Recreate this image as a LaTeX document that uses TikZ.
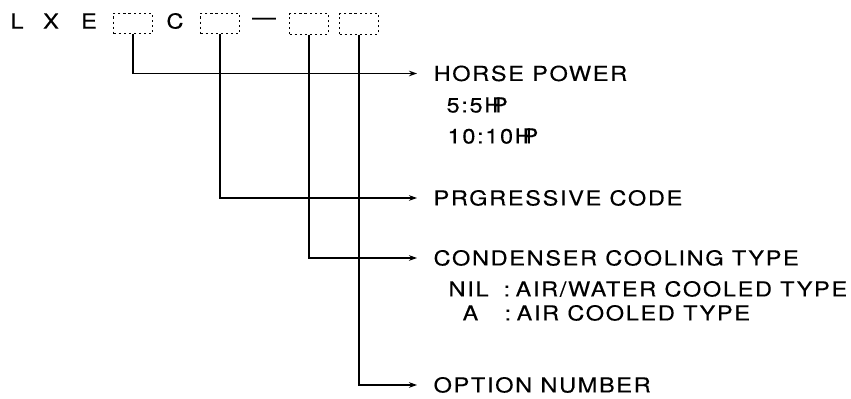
\documentclass[tikz,border=0pt]{standalone}
\usepackage{fontspec}
\setmainfont[LetterSpace=8, FakeStretch=1.14, FakeBold=0.25]{TeX Gyre Heros}
\usetikzlibrary{arrows.meta, positioning}

\newcommand{\hpunit}{H\kern-.45em P}

\begin{document}
\begin{tikzpicture}[x=0.75pt, y=-0.75pt, line width=0.9pt,
  every node/.style={font=\fontsize{15.5}{18}\selectfont, inner sep=0pt},
  codebox/.style={draw, line width=0.6pt, dash pattern=on 1.6pt off 2.2pt, minimum width=29pt, minimum height=15.5pt},
  lbl/.style={anchor=west, inner xsep=12pt, text height=11.2pt, text depth=0pt},
  sub/.style={anchor=west, text height=11.2pt, text depth=0pt},
  link/.style={-{Stealth[length=6pt, width=4.2pt]}}]
\useasboundingbox (0,0) rectangle (851,399);
% model code
\node (cL) at (17,21) {L};
\node (cX) at (51,21) {X};
\node (cE) at (89,21) {E};
\node[codebox] (bx1) at (133,23.5) {};
\node (cC) at (175,21) {C};
\node[codebox] (bx2) at (220,23.5) {};
\node (cDash) at (264,21) {\textemdash};
\node[codebox] (bx3) at (309,24) {};
\node[codebox] (bx4) at (359,24) {};
% meanings
\node[lbl] (nHP) at (417,73.5) {HORSE POWER};
\node[sub] (nHP5) at (446,105) {5:5\hpunit};
\node[sub] (nHP10) at (447,136) {10:10\hpunit};
\node[lbl] (nPrg) at (417,198) {PRGRESSIVE CODE};
\node[lbl] (nCond) at (417,258) {CONDENSER COOLING TYPE};
\node[sub] (nNil) at (448,289) {NIL};
\node[sub] (nNilCol) at (503,289) {:};
\node[sub] (nNilTxt) at (515,289) {AIR/WATER COOLED TYPE};
\node[sub] (nA) at (462,313) {A};
\node[sub] (nACol) at (504,313) {:};
\node[sub] (nATxt) at (516,313) {AIR COOLED TYPE};
\node[lbl] (nOpt) at (417,385) {OPTION NUMBER};
% leaders
\draw[link] (bx1.south) |- (nHP.west);
\draw[link] (bx2.south) |- (nPrg.west);
\draw[link] (bx3.south) |- (nCond.west);
\draw[link] (bx4.south) |- (nOpt.west);
\end{tikzpicture}
\end{document}
